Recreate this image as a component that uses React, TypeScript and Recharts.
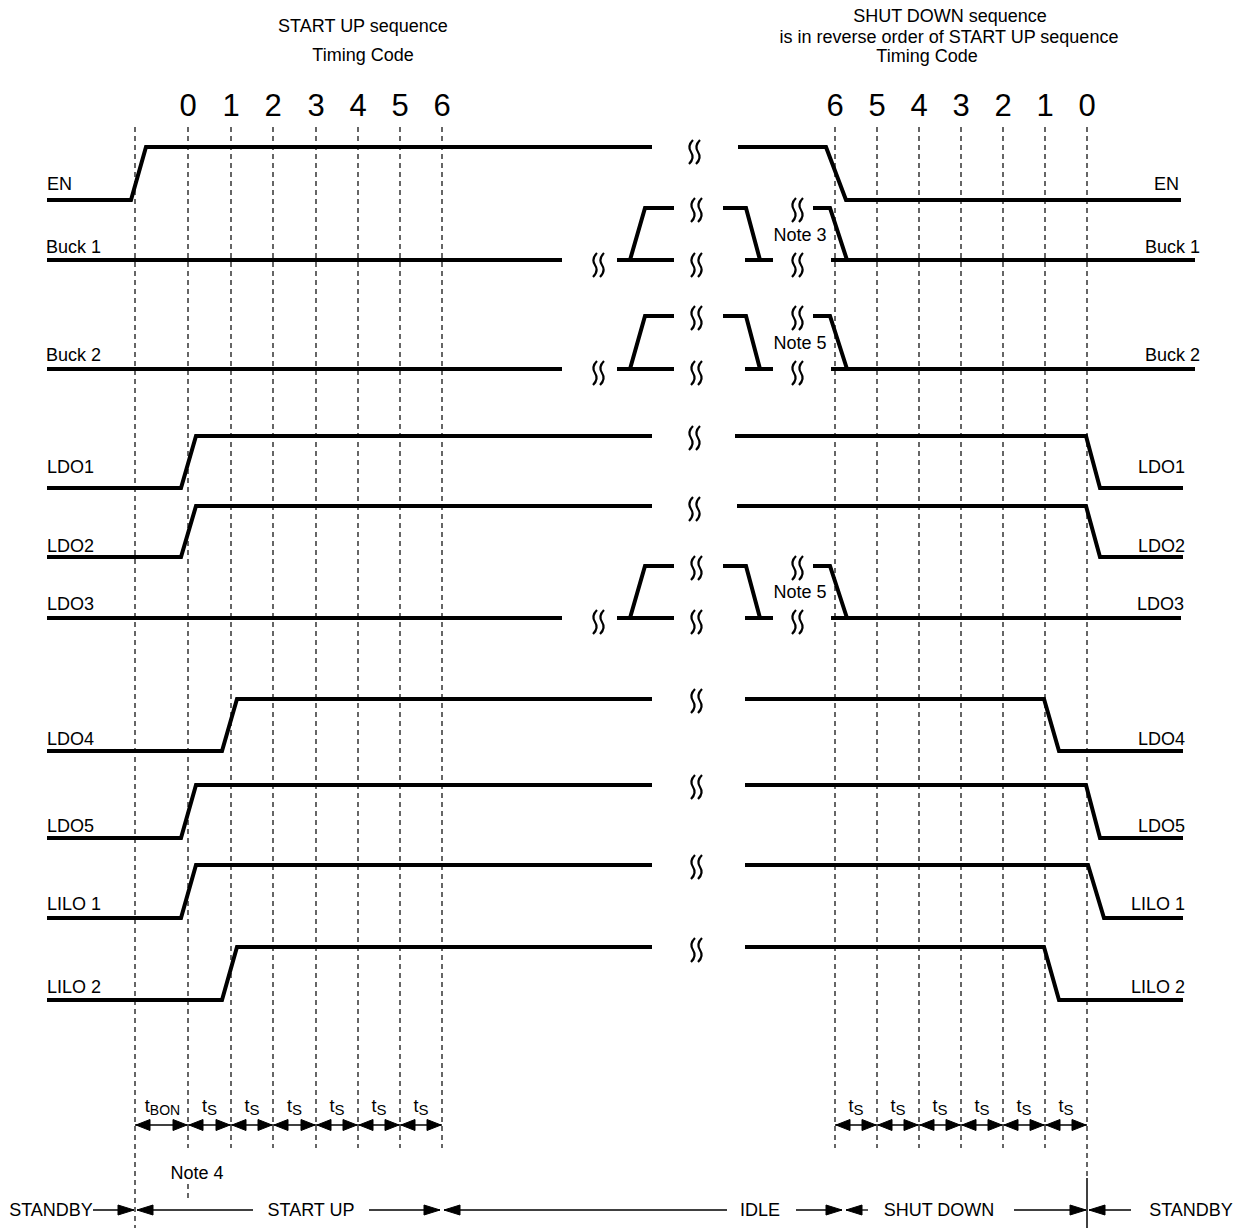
import React from 'react';
import { ComposedChart, Line, Scatter, XAxis, YAxis } from 'recharts';

const WIDTH = 1233;
const HEIGHT = 1228;
const FONT = '"Liberation Sans", Arial, Helvetica, sans-serif';

// ---------- Timing codes (diagram units) ----------
const startCodes = ['0', '1', '2', '3', '4', '5', '6'];
const startCodeX = [188, 231, 273, 316, 358, 400, 442];
const shutCodes = ['6', '5', '4', '3', '2', '1', '0'];
const shutCodeX = [835, 877, 919, 961, 1003, 1045, 1087];
const enableX = 135;

// ---------- Titles ----------
const titles = [
  { text: 'START UP sequence', x: 363, y: 32 },
  { text: 'Timing Code', x: 363, y: 61 },
  { text: 'SHUT DOWN sequence', x: 950, y: 22 },
  { text: 'is in reverse order of START UP sequence', x: 949, y: 43 },
  { text: 'Timing Code', x: 927, y: 62 },
];

// ---------- Signal waveforms: segments of [time, level] ----------
type Pt = [number, number];
type Seg = Pt[];

const waveEN: Seg[] = [
  [[47, 200], [131, 200], [146, 147], [652, 147]],
  [[738, 147], [826, 147], [846, 200], [1181, 200]],
];
const pulse = (lo: number, hi: number, end: number): Seg[] => [
  [[47, lo], [562, lo]],
  [[617, lo], [674, lo]],
  [[630, lo], [645, hi], [674, hi]],
  [[723, hi], [746, hi], [760, lo]],
  [[745, lo], [773, lo]],
  [[813, hi], [830, hi], [847, lo]],
  [[831, lo], [end, lo]],
];
const waveBuck1: Seg[] = pulse(260, 208, 1195);
const waveBuck2: Seg[] = pulse(369, 316, 1195);
const waveLDO3: Seg[] = pulse(618, 566, 1181);
const waveLDO1: Seg[] = [
  [[47, 488], [181, 488], [196, 436], [652, 436]],
  [[735, 436], [1086, 436], [1100, 488], [1183, 488]],
];
const waveLDO2: Seg[] = [
  [[47, 557], [181, 557], [196, 506], [652, 506]],
  [[737, 506], [1086, 506], [1100, 557], [1183, 557]],
];
const waveLDO4: Seg[] = [
  [[47, 751], [222, 751], [237, 699], [652, 699]],
  [[745, 699], [1044, 699], [1059, 751], [1183, 751]],
];
const waveLDO5: Seg[] = [
  [[47, 838], [181, 838], [196, 785], [652, 785]],
  [[745, 785], [1086, 785], [1100, 838], [1183, 838]],
];
const waveLILO1: Seg[] = [
  [[47, 918], [181, 918], [196, 865], [652, 865]],
  [[745, 865], [1088, 865], [1104, 918], [1183, 918]],
];
const waveLILO2: Seg[] = [
  [[47, 1000], [222, 1000], [237, 947], [652, 947]],
  [[745, 947], [1044, 947], [1059, 1000], [1183, 1000]],
];
const waves: Seg[][] = [waveEN, waveBuck1, waveBuck2, waveLDO1, waveLDO2, waveLDO3, waveLDO4, waveLDO5, waveLILO1, waveLILO2];

// ---------- Signal names ----------
const leftLabels = [
  { text: 'EN', x: 47, y: 190 },
  { text: 'Buck 1', x: 46, y: 253 },
  { text: 'Buck 2', x: 46, y: 361 },
  { text: 'LDO1', x: 47, y: 473 },
  { text: 'LDO2', x: 47, y: 552 },
  { text: 'LDO3', x: 47, y: 610 },
  { text: 'LDO4', x: 47, y: 745 },
  { text: 'LDO5', x: 47, y: 832 },
  { text: 'LILO 1', x: 47, y: 910 },
  { text: 'LILO 2', x: 47, y: 993 },
];
const rightLabels = [
  { text: 'EN', x: 1179, y: 190 },
  { text: 'Buck 1', x: 1200, y: 253 },
  { text: 'Buck 2', x: 1200, y: 361 },
  { text: 'LDO1', x: 1185, y: 473 },
  { text: 'LDO2', x: 1185, y: 552 },
  { text: 'LDO3', x: 1184, y: 610 },
  { text: 'LDO4', x: 1185, y: 745 },
  { text: 'LDO5', x: 1185, y: 832 },
  { text: 'LILO 1', x: 1185, y: 910 },
  { text: 'LILO 2', x: 1185, y: 993 },
];

// ---------- Time-break marks ----------
const breakMarks: Pt[] = [
  [694, 152], [694, 438], [694, 509], [696, 701], [696, 787], [696, 867], [696, 950],
  [598, 265], [696, 210], [696, 265], [797, 210], [797, 265],
  [598, 373], [696, 318], [696, 373], [797, 318], [797, 373],
  [598, 622], [696, 568], [696, 622], [797, 568], [797, 622],
];

// ---------- Notes ----------
const notes = [
  { text: 'Note 3', x: 800, y: 241 },
  { text: 'Note 5', x: 800, y: 349 },
  { text: 'Note 5', x: 800, y: 598 },
  { text: 'Note 4', x: 197, y: 1179 },
];

// ---------- Interval dimension arrows ----------
const intervalY = 1125;
const intervalStarts = [enableX, ...startCodeX.slice(0, 6), ...shutCodeX.slice(0, 6)];
const intervalEnds = [...startCodeX, ...shutCodeX.slice(1)];
const intervalNames = ['BON', 'S', 'S', 'S', 'S', 'S', 'S', 'S', 'S', 'S', 'S', 'S', 'S'];

// ---------- Phase bar ----------
const phaseY = 1210;
const phaseLabels = [
  { text: 'STANDBY', x: 51 },
  { text: 'START UP', x: 311 },
  { text: 'IDLE', x: 760 },
  { text: 'SHUT DOWN', x: 939 },
  { text: 'STANDBY', x: 1191 },
];
const phaseArrows = [
  { from: 93, to: 134 },
  { from: 253, to: 137 },
  { from: 369, to: 440 },
  { from: 727, to: 444 },
  { from: 796, to: 842 },
  { from: 868, to: 846 },
  { from: 1014, to: 1086 },
  { from: 1131, to: 1089 },
];

// ---------- Dashed guides ----------
const guides = [
  { x: enableX, y1: 127, y2: 1228 },
  ...startCodeX.map((x) => ({ x, y1: 127, y2: 1148 })),
  { x: startCodeX[0], y1: 1184, y2: 1199 },
  ...shutCodeX.slice(0, 6).map((x) => ({ x, y1: 127, y2: 1148 })),
  { x: shutCodeX[6], y1: 127, y2: 1176 },
];
const solidGuides = [{ x: shutCodeX[6], y1: 1178, y2: 1228 }];

// ---------- Shapes ----------
const textShape = (anchor: string, size: number) => (props: any) => (
  <text x={props.cx} y={props.cy} textAnchor={anchor} fontSize={size} fontFamily={FONT} fill="#000">
    {props.payload.text}
  </text>
);

const subTextShape = (props: any) => (
  <text x={props.cx} y={props.cy} textAnchor="middle" fontFamily={FONT} fill="#000">
    <tspan fontSize={18}>t</tspan>
    <tspan fontSize={props.payload.sub === 'BON' ? 14 : 15} dy={3}>{props.payload.sub}</tspan>
  </text>
);

const breakShape = (props: any) => {
  const { cx, cy } = props;
  const strand = (x: number) => `M${x + 2},${cy - 12} Q${x - 4},${cy - 6} ${x},${cy} Q${x + 4},${cy + 6} ${x - 2},${cy + 12}`;
  return (
    <g>
      <path d={strand(cx - 3)} fill="none" stroke="#000" strokeWidth={2.2} />
      <path d={strand(cx + 4)} fill="none" stroke="#000" strokeWidth={2.2} />
    </g>
  );
};

const headShape = (len: number, half: number) => (props: any) => {
  const { cx, cy } = props;
  const d = props.payload.dir;
  const pts = `${cx},${cy} ${cx - d * len},${cy - half} ${cx - d * len},${cy + half}`;
  return <polygon points={pts} fill="#000" stroke="#000" strokeWidth={1} />;
};

const segData = (s: Seg) => s.map(([x, y]) => ({ x, y }));

export default function App() {
  const codeTexts = [
    ...startCodes.map((t, i) => ({ text: t, x: startCodeX[i], y: 116 })),
    ...shutCodes.map((t, i) => ({ text: t, x: shutCodeX[i], y: 116 })),
  ];
  const intervalTexts = intervalStarts.map((a, i) => ({
    sub: intervalNames[i],
    x: (a + intervalEnds[i]) / 2 + (i === 0 ? 1 : 0),
    y: 1112,
  }));
  const intervalHeads = [
    ...intervalStarts.map((a) => ({ x: a + 1, y: intervalY, dir: -1 })),
    ...intervalEnds.map((b) => ({ x: b - 1, y: intervalY, dir: 1 })),
  ];
  const phaseHeads = phaseArrows.map((a) => ({ x: a.to, y: phaseY, dir: a.to > a.from ? 1 : -1 }));

  const lineProps = { dot: false, activeDot: false, isAnimationActive: false, legendType: 'none' as const };

  return (
    <div style={{ position: 'absolute', left: 0, top: 0, width: WIDTH, height: HEIGHT, background: '#fff' }}>
      <ComposedChart width={WIDTH} height={HEIGHT} margin={{ top: 0, right: 0, bottom: 0, left: 0 }}>
        <XAxis type="number" dataKey="x" domain={[0, WIDTH]} hide allowDataOverflow />
        <YAxis type="number" dataKey="y" domain={[0, HEIGHT]} reversed hide allowDataOverflow />

        {guides.map((g, i) => (
          <Line
            key={`g${i}`}
            data={[{ x: g.x, y: g.y1 }, { x: g.x, y: g.y2 }]}
            dataKey="y"
            stroke="#000"
            strokeWidth={1.2}
            strokeDasharray="5 4"
            {...lineProps}
          />
        ))}
        {solidGuides.map((g, i) => (
          <Line
            key={`sg${i}`}
            data={[{ x: g.x, y: g.y1 }, { x: g.x, y: g.y2 }]}
            dataKey="y"
            stroke="#000"
            strokeWidth={1.5}
            {...lineProps}
          />
        ))}

        {waves.map((w, wi) =>
          w.map((s, si) => (
            <Line
              key={`w${wi}-${si}`}
              data={segData(s)}
              dataKey="y"
              stroke="#000"
              strokeWidth={4}
              strokeLinejoin="miter"
              strokeLinecap="butt"
              {...lineProps}
            />
          ))
        )}

        {intervalStarts.map((a, i) => (
          <Line
            key={`ia${i}`}
            data={[{ x: a, y: intervalY }, { x: intervalEnds[i], y: intervalY }]}
            dataKey="y"
            stroke="#000"
            strokeWidth={1.5}
            {...lineProps}
          />
        ))}
        {phaseArrows.map((a, i) => (
          <Line
            key={`pa${i}`}
            data={[{ x: a.from, y: phaseY }, { x: a.to, y: phaseY }]}
            dataKey="y"
            stroke="#000"
            strokeWidth={1.3}
            {...lineProps}
          />
        ))}

        <Scatter data={intervalHeads} shape={headShape(14, 5.5)} isAnimationActive={false} />
        <Scatter data={phaseHeads} shape={headShape(16, 5)} isAnimationActive={false} />
        <Scatter data={breakMarks.map(([x, y]) => ({ x, y }))} shape={breakShape} isAnimationActive={false} />

        <Scatter data={titles} shape={textShape('middle', 18)} isAnimationActive={false} />
        <Scatter data={codeTexts} shape={textShape('middle', 31)} isAnimationActive={false} />
        <Scatter data={leftLabels} shape={textShape('start', 18)} isAnimationActive={false} />
        <Scatter data={rightLabels} shape={textShape('end', 18)} isAnimationActive={false} />
        <Scatter data={notes} shape={textShape('middle', 18)} isAnimationActive={false} />
        <Scatter data={intervalTexts} shape={subTextShape} isAnimationActive={false} />
        <Scatter
          data={phaseLabels.map((p) => ({ ...p, y: phaseY + 6 }))}
          shape={textShape('middle', 18)}
          isAnimationActive={false}
        />
      </ComposedChart>
    </div>
  );
}
